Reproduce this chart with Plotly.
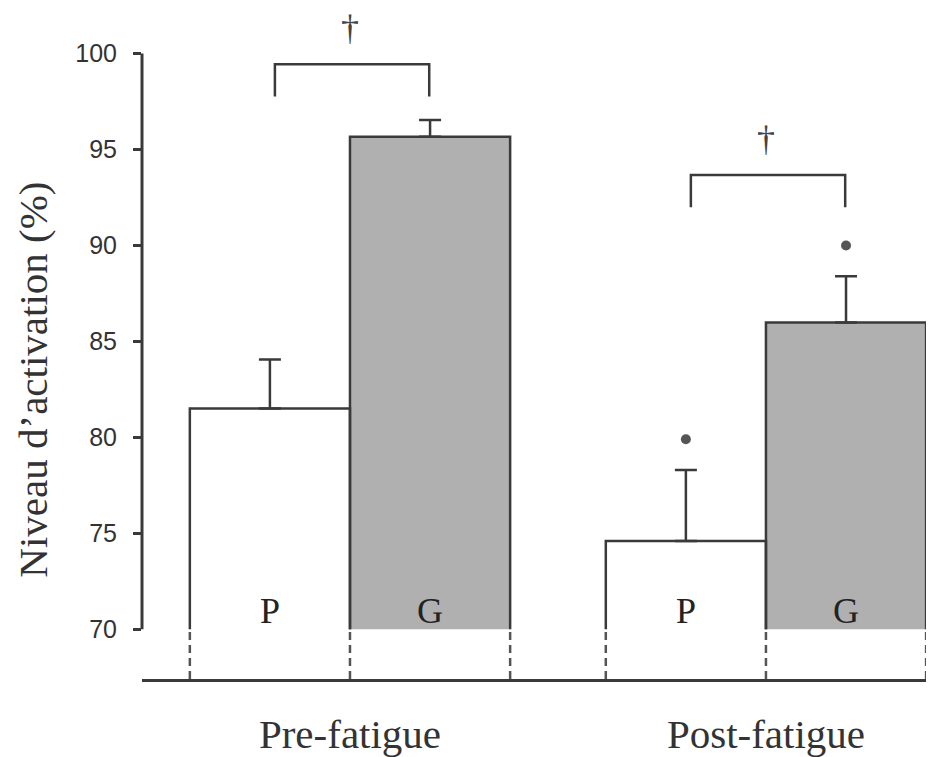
import plotly.graph_objects as go

# ---- data ----
groups = ["Pre-fatigue", "Post-fatigue"]
conditions = ["P", "G"]
p_mean = [81.5, 74.6]
p_err = [2.55, 3.7]
g_mean = [95.66, 85.98]
g_err = [0.87, 2.41]
p_star = [False, True]
g_star = [False, True]
y_ticks = [70, 75, 80, 85, 90, 95, 100]
y_title = "Niveau d\u2019activation (%)"

# ---- layout constants ----
BASE = 70
W = 0.385
Y_RANGE = [67.404, 102.365]
X_RANGE = [-0.5, 1.404]
LINE = "#3a3a3a"
GRAY_FILL = "#b0b0b0"
SERIF = "Liberation Serif, Times New Roman, serif"
SANS = "Liberation Sans, Arial, sans-serif"

centers = list(range(len(groups)))
p_x = [c - W / 2 for c in centers]
g_x = [c + W / 2 for c in centers]

fig = go.Figure()

# bars (fill only; outline drawn separately so bottom edge is open)
fig.add_trace(go.Bar(x=p_x, y=[m - BASE for m in p_mean], base=BASE, width=W,
                     marker=dict(color="white", line=dict(width=0)), showlegend=False,
                     hoverinfo="skip"))
fig.add_trace(go.Bar(x=g_x, y=[m - BASE for m in g_mean], base=BASE, width=W,
                     marker=dict(color=GRAY_FILL, line=dict(width=0)), showlegend=False,
                     hoverinfo="skip"))

# bar outlines (three sides)
ox, oy = [], []
for xs, ms in ((p_x, p_mean), (g_x, g_mean)):
    for xc, m in zip(xs, ms):
        xl, xr = xc - W / 2, xc + W / 2
        ox += [xl, xl, xr, xr, None]
        oy += [BASE, m, m, BASE, None]
fig.add_trace(go.Scatter(x=ox, y=oy, mode="lines", line=dict(color=LINE, width=2.5),
                         showlegend=False, hoverinfo="skip"))

# dashed extensions below the axis break
edges = sorted(set([round(x - W / 2, 6) for x in p_x + g_x] + [round(x + W / 2, 6) for x in p_x + g_x]))
dx, dy = [], []
for e in edges:
    dx += [e, e, None]
    dy += [Y_RANGE[0], BASE, None]
fig.add_trace(go.Scatter(x=dx, y=dy, mode="lines",
                         line=dict(color="#555555", width=2.5, dash="8px,5px"),
                         showlegend=False, hoverinfo="skip"))

# error bars (upper only)
fig.add_trace(go.Scatter(x=p_x + g_x, y=p_mean + g_mean, mode="markers",
                         marker=dict(size=1, color="rgba(0,0,0,0)"),
                         error_y=dict(type="data", array=p_err + g_err,
                                      arrayminus=[0] * 4, symmetric=False,
                                      width=11, thickness=2.5, color=LINE),
                         showlegend=False, hoverinfo="skip"))

# significance dots (*)
sx, sy = [], []
for xs, ms, es, st in ((p_x, p_mean, p_err, p_star), (g_x, g_mean, g_err, g_star)):
    for xc, m, e, s in zip(xs, ms, es, st):
        if s:
            sx.append(xc)
            sy.append(m + e + 1.6)
fig.add_trace(go.Scatter(x=sx, y=sy, mode="markers",
                         marker=dict(symbol="circle", size=10, color="#555555"),
                         showlegend=False, hoverinfo="skip"))

# brackets (dagger comparisons)
bracket_top = [99.43, 93.66]
LEG = 1.68
bx, by = [], []
for c, top in zip(centers, bracket_top):
    xl = c - W / 2 + 0.012
    xr = c + W / 2 - 0.002
    bx += [xl, xl, xr, xr, None]
    by += [top - LEG, top, top, top - LEG, None]
fig.add_trace(go.Scatter(x=bx, y=by, mode="lines", line=dict(color=LINE, width=2.5),
                         showlegend=False, hoverinfo="skip"))

annotations = []
for c, top in zip(centers, bracket_top):
    annotations.append(dict(x=c, y=top + 1.9, xref="x", yref="y", text="\u2020",
                            showarrow=False, font=dict(family=SERIF, size=36, color="#444444"),
                            xanchor="center", yanchor="middle"))
for xc in p_x:
    annotations.append(dict(x=xc, y=70.95, xref="x", yref="y", text=conditions[0],
                            showarrow=False, font=dict(family=SERIF, size=36, color="#222222"),
                            xanchor="center", yanchor="middle"))
for xc in g_x:
    annotations.append(dict(x=xc, y=70.95, xref="x", yref="y", text=conditions[1],
                            showarrow=False, font=dict(family=SERIF, size=36, color="#222222"),
                            xanchor="center", yanchor="middle"))
annotations.append(dict(x=0, y=83.0, xref="paper", yref="y", xshift=-109, text=y_title,
                        textangle=-90, showarrow=False,
                        font=dict(family=SERIF, size=41, color="#333333"),
                        xanchor="center", yanchor="middle"))

fig.update_layout(
    width=926, height=749,
    margin=dict(l=134, r=0, t=0, b=69),
    paper_bgcolor="white", plot_bgcolor="white",
    barmode="overlay", showlegend=False,
    annotations=annotations,
    shapes=[dict(type="line", xref="paper", yref="y", x0=0, x1=0, y0=BASE, y1=max(y_ticks),
                 line=dict(color=LINE, width=3))],
    xaxis=dict(range=X_RANGE, tickvals=centers, ticktext=groups, showline=True,
               linecolor=LINE, linewidth=3, ticks="", showgrid=False, zeroline=False,
               tickfont=dict(family=SERIF, size=41, color="#333333"), ticklabelstandoff=17,
               fixedrange=True),
    yaxis=dict(range=Y_RANGE, tickvals=y_ticks, showline=False, ticks="outside", ticklen=8,
               tickwidth=2.5, tickcolor=LINE, showgrid=False, zeroline=False,
               tickfont=dict(family=SANS, size=25, color="#333333"), ticklabelstandoff=11,
               fixedrange=True),
)

fig.write_html("out.html")
